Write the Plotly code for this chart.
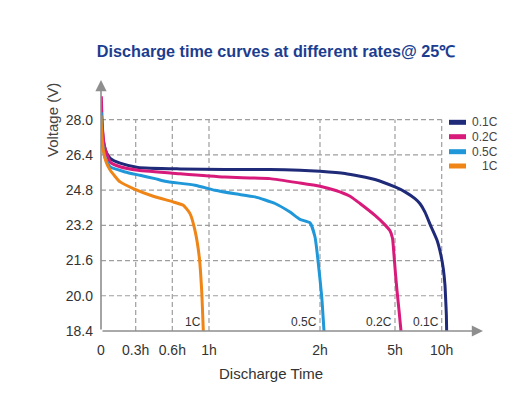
import numpy as np
import plotly.graph_objects as go

# ---------------- data ----------------
SERIES = ["0.1C", "0.2C", "0.5C", "1C"]
COLORS = ["#1f2a78", "#d81b7b", "#1f97d8", "#ee8516"]

# discharge time (hours) and voltage (V)
t_01c = [0.003, 0.02, 0.045, 0.08, 0.165, 0.319, 0.684, 1.144, 1.55, 1.82, 2.0, 3.0,
         4.2, 5.0, 6.07, 7.14, 7.68, 8.21, 8.85, 9.50, 9.92, 10.17, 10.35, 10.43, 10.5, 10.53]
v_01c = [28.33, 27.06, 26.52, 26.24, 26.02, 25.83, 25.76, 25.73, 25.73, 25.70, 25.65, 25.55,
         25.28, 24.94, 24.72, 24.41, 24.18, 23.80, 23.15, 22.52, 21.84, 21.23, 20.48, 19.79, 19.11, 18.4]

t_02c = [0.003, 0.011, 0.028, 0.054, 0.08, 0.165, 0.319, 0.684, 1.144, 1.55, 1.82, 2.0,
         2.6, 3.2, 3.6, 4.2, 4.6, 4.8, 4.9, 4.96, 5.05, 5.21, 5.43, 5.64]
v_02c = [29.06, 27.74, 26.83, 26.38, 26.07, 25.86, 25.70, 25.54, 25.39, 25.32, 25.12, 24.97,
         24.79, 24.52, 24.19, 23.65, 23.22, 22.95, 22.61, 21.84, 21.01, 20.25, 19.34, 18.4]

t_05c = [0.003, 0.011, 0.037, 0.08, 0.208, 0.335, 0.458, 0.54, 0.847, 1.054, 1.234, 1.414,
         1.595, 1.73, 1.82, 1.91, 1.955, 1.985, 2.07, 2.16]
v_05c = [28.33, 27.06, 26.24, 25.85, 25.62, 25.47, 25.32, 25.20, 25.02, 24.79, 24.63, 24.49,
         24.19, 23.80, 23.47, 23.31, 22.67, 21.46, 19.94, 18.4]

t_1c = [0.0, 0.007, 0.02, 0.045, 0.08, 0.165, 0.279, 0.444, 0.611, 0.72, 0.793, 0.847,
        0.894, 0.92, 0.938]
v_1c = [28.2, 27.29, 26.61, 26.06, 25.70, 25.17, 24.87, 24.52, 24.26, 24.11, 23.73, 22.97,
        21.76, 20.25, 18.4]

TIMES = [t_01c, t_02c, t_05c, t_1c]
VOLTS = [v_01c, v_02c, v_05c, v_1c]

X_TICK_HOURS = [0, 0.3, 0.6, 1, 2, 5, 10]
X_TICK_TEXT = ["0", "0.3h", "0.6h", "1h", "2h", "5h", "10h"]
Y_TICKS = [18.4, 20.0, 21.6, 23.2, 24.8, 26.4, 28.0]

# ---------------- non-linear time scale of the chart ----------------
SCALE_POS = [0, 34.7, 71.3, 108, 219, 294, 340.7]


def h2x(h):
    h = np.asarray(h, dtype=float)
    x = np.interp(h, X_TICK_HOURS, SCALE_POS)
    slope = (SCALE_POS[-1] - SCALE_POS[-2]) / (X_TICK_HOURS[-1] - X_TICK_HOURS[-2])
    x = np.where(h > X_TICK_HOURS[-1], SCALE_POS[-1] + (h - X_TICK_HOURS[-1]) * slope, x)
    return x


# the page body has an 8px default margin: lay out in window pixels minus 8
OFF = 8
W, H = 515 - 2 * OFF, 394 - 2 * OFF
AXIS_X_WIN, AXIS_Y_WIN, TOP_WIN = 101, 331, 78
ML = AXIS_X_WIN - OFF
MT = TOP_WIN - OFF
MB = H - (AXIS_Y_WIN - OFF)
MR = 5
PW = W - ML - MR
PH = H - MT - MB
PX_PER_V = 22.02
YMAX = 18.4 + PH / PX_PER_V


def py_paper(py):
    return (AXIS_Y_WIN - py) / PH


def px_x(px):
    return px - AXIS_X_WIN


fig = go.Figure()
for name, col, t, v in zip(SERIES, COLORS, TIMES, VOLTS):
    fig.add_trace(go.Scatter(x=h2x(t), y=v, mode="lines", name=name,
                             line=dict(color=col, width=3, shape="spline", smoothing=0.5),
                             showlegend=False))

GRID = dict(color="#9e9e9e", width=1.2, dash="5px,3px")
shapes = []
x_end = float(h2x(X_TICK_HOURS[-1]))
for yv in Y_TICKS[1:]:
    shapes.append(dict(type="line", xref="x", yref="y", x0=0, x1=x_end, y0=yv, y1=yv,
                       line=GRID, layer="below"))
for hv in X_TICK_HOURS[1:]:
    xv = float(h2x(hv))
    shapes.append(dict(type="line", xref="x", yref="y", x0=xv, x1=xv, y0=Y_TICKS[0],
                       y1=Y_TICKS[-1], line=GRID, layer="below"))

# legend (manual)
LEG_ROWS = [122.3, 136.7, 151.7, 166.0]
annotations = []
for name, col, py in zip(SERIES, COLORS, LEG_ROWS):
    shapes.append(dict(type="rect", xref="x", yref="paper", x0=px_x(449), x1=px_x(466),
                       y0=py_paper(py + 2.5), y1=py_paper(py - 2.5),
                       fillcolor=col, line=dict(width=0)))
    annotations.append(dict(text=name, xref="x", yref="paper", x=px_x(500), y=py_paper(py),
                            xanchor="right", yanchor="middle", showarrow=False,
                            font=dict(size=12, color="#444", family="Liberation Sans")))

# labels at the end of each curve
END_LABEL_HOURS = [10, 5, 2, 1]
END_SHIFT = [-1, -1, -1, -6]
for name, hv, sh in zip(SERIES, END_LABEL_HOURS, END_SHIFT):
    annotations.append(dict(text=name, xref="x", yref="y", x=float(h2x(hv)), y=18.4,
                            xanchor="right", yanchor="bottom", xshift=sh, showarrow=False,
                            font=dict(size=12, color="#333", family="Liberation Sans")))

# axis arrows
AX_COL = "#8e8e8e"
annotations.append(dict(text="", x=px_x(483), y=18.4, ax=0, ay=18.4, xref="x", yref="y",
                        axref="x", ayref="y", showarrow=True, arrowhead=2, arrowsize=1.4,
                        arrowwidth=1.6, arrowcolor=AX_COL))
annotations.append(dict(text="", x=0, y=18.4 + (AXIS_Y_WIN - 80) / PX_PER_V, ax=0, ay=18.4,
                        xref="x", yref="y", axref="x", ayref="y", showarrow=True,
                        arrowhead=2, arrowsize=1.4, arrowwidth=1.6, arrowcolor=AX_COL))

# axis titles
annotations.append(dict(text="Voltage (V)", xref="paper", yref="paper",
                        x=px_x(52) / PW, y=py_paper(120), textangle=-90, showarrow=False,
                        xanchor="center", yanchor="middle",
                        font=dict(size=15, color="#444", family="Liberation Sans")))
annotations.append(dict(text="Discharge Time", xref="paper", yref="paper",
                        x=px_x(271) / PW, y=py_paper(373), showarrow=False,
                        xanchor="center", yanchor="middle",
                        font=dict(size=15, color="#333", family="Liberation Sans")))

fig.update_layout(
    width=W, height=H,
    margin=dict(l=ML, r=MR, t=MT, b=MB),
    paper_bgcolor="white", plot_bgcolor="white",
    title=dict(text="<b>Discharge time curves at different rates@ 25℃</b>",
               x=(276 - OFF) / W, xref="container", xanchor="center",
               y=1 - (51.7 - OFF) / H, yref="container", yanchor="middle",
               font=dict(size=16.2, color="#1c3d8f", family="Liberation Sans")),
    xaxis=dict(range=[0, PW], showgrid=False, zeroline=False, showline=False,
               tickvals=[float(v) for v in h2x(X_TICK_HOURS)], ticktext=X_TICK_TEXT,
               ticks="", ticklabelstandoff=9,
               tickfont=dict(size=14, color="#333", family="Liberation Sans")),
    yaxis=dict(range=[18.4, YMAX], showgrid=False, zeroline=False, showline=False,
               tickvals=Y_TICKS, ticktext=[f"{v:.1f}" for v in Y_TICKS],
               ticks="", ticklabelstandoff=7,
               tickfont=dict(size=14, color="#333", family="Liberation Sans")),
    shapes=shapes, annotations=annotations,
)

fig.write_html("out.html")
